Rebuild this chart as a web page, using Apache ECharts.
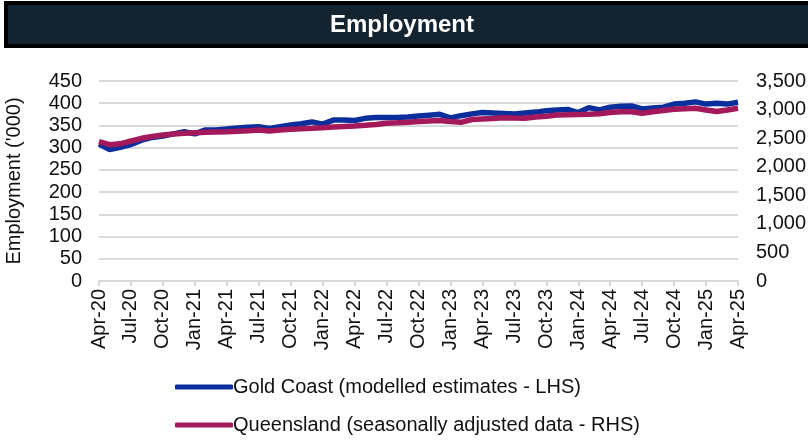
<!DOCTYPE html>
<html>
<head>
<meta charset="utf-8">
<script src="https://cdn.jsdelivr.net/npm/echarts@6/dist/echarts.min.js"></script>
<style>
  html, body { margin: 0; padding: 0; background: #fff; }
  #chart { width: 808px; height: 441px; }
</style>
</head>
<body>
<div id="chart"></div>
<script>
const months = [
  'Apr-20','May-20','Jun-20','Jul-20','Aug-20','Sep-20','Oct-20','Nov-20','Dec-20',
  'Jan-21','Feb-21','Mar-21','Apr-21','May-21','Jun-21','Jul-21','Aug-21','Sep-21','Oct-21','Nov-21','Dec-21',
  'Jan-22','Feb-22','Mar-22','Apr-22','May-22','Jun-22','Jul-22','Aug-22','Sep-22','Oct-22','Nov-22','Dec-22',
  'Jan-23','Feb-23','Mar-23','Apr-23','May-23','Jun-23','Jul-23','Aug-23','Sep-23','Oct-23','Nov-23','Dec-23',
  'Jan-24','Feb-24','Mar-24','Apr-24','May-24','Jun-24','Jul-24','Aug-24','Sep-24','Oct-24','Nov-24','Dec-24',
  'Jan-25','Feb-25','Mar-25','Apr-25'
]

// Gold Coast, '000 (left axis)
const goldCoast = [
  308, 296, 301, 307, 317, 323, 326, 331, 336,
  331, 340, 340, 342, 344, 346, 347, 343, 347, 351, 354, 358,
  353, 362, 362, 361, 366, 368, 368, 368, 369, 371, 373, 375,
  367, 372, 376, 379, 378, 377, 376, 378, 380, 383, 385, 386,
  379, 390, 385, 391, 393, 394, 387, 389, 391, 398, 400, 403,
  398, 400, 398, 402
]

// Queensland, '000 (right axis)
const queensland = [
  2438, 2385, 2400, 2450, 2497, 2530, 2555, 2572, 2585,
  2595, 2602, 2608, 2613, 2620, 2630, 2642, 2625, 2642, 2655, 2663, 2672,
  2683, 2695, 2704, 2712, 2725, 2739, 2760, 2768, 2779, 2791, 2800, 2809,
  2791, 2777, 2826, 2835, 2844, 2858, 2852, 2847, 2870, 2882, 2905, 2908,
  2914, 2917, 2926, 2949, 2963, 2963, 2935, 2963, 2984, 3005, 3014, 3022,
  2992, 2966, 2992, 3022
]

const FONT = 'Liberation Sans, Arial, sans-serif'
const GRID_COLOR = '#d9d9d9'
const BLUE = '#0a2f9c'
const RED = '#a3195b'
const FS = 20

const chart = echarts.init(document.getElementById('chart'))

chart.setOption({
  animation: false,
  textStyle: { fontFamily: FONT },
  title: {
    text: 'Employment',
    left: 325,
    top: 8,
    textStyle: { color: '#fff', fontSize: 24, fontWeight: 'bold', fontFamily: FONT }
  },
  graphic: [{
    type: 'rect',
    z: -1,
    shape: { x: 6, y: 3, width: 804, height: 43 },
    style: { fill: '#13232f', stroke: '#000', lineWidth: 4 }
  }],
  legend: {
    orient: 'vertical',
    left: 175,
    top: 377,
    padding: 0,
    itemWidth: 58,
    itemHeight: 5,
    itemGap: 18,
    icon: 'roundRect',
    textStyle: { fontSize: FS, color: '#111', fontFamily: FONT, padding: [0, 0, 0, -5] },
    data: ['Gold Coast (modelled estimates - LHS)', 'Queensland (seasonally adjusted data - RHS)']
  },
  grid: { left: 99, right: 70, top: 81, bottom: 160, outerBoundsMode: 'none' },
  xAxis: {
    type: 'category',
    data: months,
    boundaryGap: false,
    axisLine: { lineStyle: { color: GRID_COLOR, width: 2 } },
    axisTick: { interval: 2, length: 5, lineStyle: { color: GRID_COLOR, width: 2 } },
    axisLabel: { interval: 2, rotate: 90, fontSize: FS, color: '#111', margin: 8 }
  },
  yAxis: [{
    type: 'value',
    min: 0,
    max: 450,
    interval: 50,
    name: "Employment ('000)",
    nameLocation: 'middle',
    nameGap: 75,
    nameTextStyle: { fontSize: FS, color: '#111' },
    axisLine: { show: false },
    axisTick: { show: false },
    axisLabel: { fontSize: FS, color: '#111', margin: 17 },
    splitLine: { lineStyle: { color: GRID_COLOR, width: 2 } }
  }, {
    type: 'value',
    min: 0,
    max: 3500,
    interval: 500,
    position: 'right',
    axisLine: { show: false },
    axisTick: { show: false },
    splitLine: { show: false },
    axisLabel: {
      fontSize: FS, color: '#111', margin: 18,
      formatter: v => v.toLocaleString('en-US')
    }
  }],
  series: [{
    name: 'Gold Coast (modelled estimates - LHS)',
    type: 'line',
    yAxisIndex: 0,
    data: goldCoast,
    showSymbol: false,
    lineStyle: { color: BLUE, width: 5.5 },
    itemStyle: { color: BLUE }
  }, {
    name: 'Queensland (seasonally adjusted data - RHS)',
    type: 'line',
    yAxisIndex: 1,
    data: queensland,
    showSymbol: false,
    lineStyle: { color: RED, width: 5.5 },
    itemStyle: { color: RED }
  }]
})
</script>
</body>
</html>
